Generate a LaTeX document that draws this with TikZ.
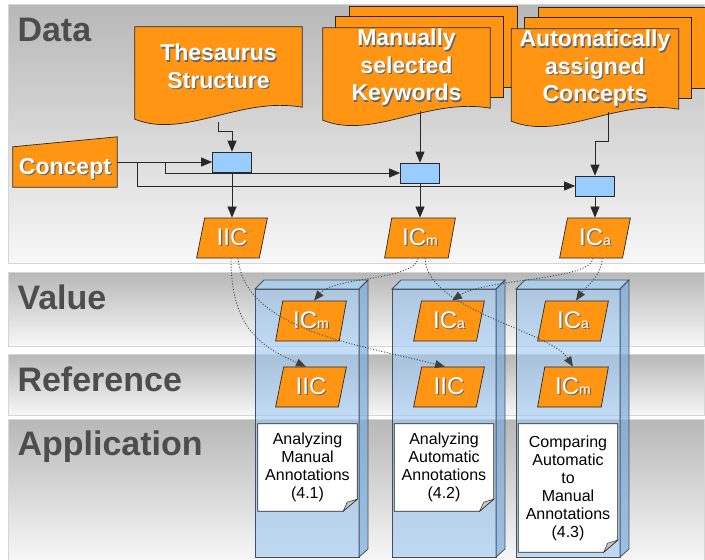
\documentclass[tikz,border=0pt]{standalone}
\usepackage{fontspec}
\setmainfont{Liberation Sans}
\usetikzlibrary{arrows.meta, calc, shapes.geometric}

\definecolor{docorange}{RGB}{255,149,18}
\definecolor{docline}{RGB}{40,40,40}
\definecolor{joinblue}{RGB}{153,204,255}
\definecolor{bandtext}{RGB}{77,77,77}
\definecolor{colfront}{RGB}{155,200,240}
\definecolor{coltop}{RGB}{165,210,245}
\definecolor{colside}{RGB}{120,170,220}
\definecolor{colline}{RGB}{70,80,92}

\pgfdeclarelayer{bands}
\pgfdeclarelayer{cols}
\pgfdeclarelayer{shapes}
\pgfsetlayers{bands,cols,shapes,main}

\newcommand{\shtxt}[1]{\leavevmode\rlap{\kern1.2pt\raisebox{-1.2pt}{\color{black!60}#1}}#1}
\newcommand{\ICm}{\shtxt{IC{\fontsize{14}{14}\selectfont m}}}
\newcommand{\ICa}{\shtxt{IC{\fontsize{14}{14}\selectfont a}}}

\newcommand{\docshape}[1]{%
  \path[docshape] (#1.north west) -- (#1.north east) -- (#1.south east)
    .. controls ([xshift=-62pt,yshift=11pt]#1.south east) and ([xshift=50pt,yshift=-32pt]#1.south west)
    .. ([yshift=-12pt]#1.south west) -- cycle;}
\newcommand{\docstack}[1]{%
  \path[docshape] ([xshift=27pt,yshift=21pt]#1.north west) rectangle ([xshift=27pt,yshift=21pt]#1.south east);
  \path[docshape] ([xshift=13pt,yshift=11pt]#1.north west) rectangle ([xshift=13pt,yshift=11pt]#1.south east);
  \docshape{#1}}
\newcommand{\inputshape}[1]{%
  \path[docshape] (#1.south west) -- (#1.south east) -- (#1.north east) -- ([yshift=-10pt]#1.north west) -- cycle;}
\newcommand{\noteshape}[1]{%
  \path[fill=white, draw=docline, line width=0.7pt] (#1.north west) -- (#1.north east) -- ([yshift=12pt]#1.south east)
    -- ([xshift=-14pt]#1.south east) -- (#1.south west) -- cycle;
  \path[fill=black!22, draw=docline, line width=0.5pt] ([yshift=12pt]#1.south east) -- ([xshift=-14pt]#1.south east)
    -- ([xshift=-10pt,yshift=9pt]#1.south east) -- cycle;}

\tikzset{
  band/.style={top color=black!28, bottom color=black!3, draw=black!16, line width=0.6pt},
  bandlabel/.style={anchor=base west, text=bandtext, font=\fontsize{34}{38}\selectfont\bfseries},
  docshape/.style={fill=docorange, draw=docline, line width=0.7pt},
  doctext/.style={minimum width=167pt, minimum height=80pt, inner sep=0pt, align=center, text=white,
    font=\fontsize{23}{27.5}\selectfont\bfseries},
  inputtext/.style={minimum width=104pt, minimum height=50pt, inner sep=0pt, text height=25pt, text depth=0pt,
    text=white, font=\fontsize{23}{27}\selectfont\bfseries},
  infobox/.style={trapezium, trapezium left angle=76, trapezium right angle=104, trapezium stretches,
    minimum width=71pt, minimum height=40pt, inner sep=0pt, fill=docorange, draw=docline, line width=0.7pt,
    text=white, font=\fontsize{24}{24}\selectfont},
  joinbox/.style={rectangle, minimum width=39pt, minimum height=20pt, fill=joinblue, draw=docline, line width=0.7pt},
  notetext/.style={minimum width=99pt, inner sep=0pt, align=center, font=\fontsize{16}{18}\selectfont},
  flow/.style={draw=docline, line width=0.7pt, -{Triangle[length=11pt,width=9pt]}},
  valflow/.style={draw=black!75, line width=0.9pt, dash pattern=on 1pt off 1.8pt, -{Triangle[length=10pt,width=8pt]}},
}

\begin{document}
\begin{tikzpicture}[x=1pt, y=-1pt]
  \useasboundingbox (0,0) rectangle (705,560);

  \begin{pgfonlayer}{bands}
    \path[band] (8,4) rectangle (704,263);
    \path[band] (8,272) rectangle (704,346);
    \path[band] (8,354) rectangle (704,415);
    \path[band] (8,419) rectangle (704,561);
  \end{pgfonlayer}
  \node[bandlabel] (datalbl) at (14,41) {Data};
  \node[bandlabel] (valuelbl) at (14,309) {Value};
  \node[bandlabel] (reflbl) at (14,391) {Reference};
  \node[bandlabel] (applbl) at (14,455) {Application};

  % columns
  \begin{pgfonlayer}{cols}
    \foreach \x in {255,392,516}{
      \path[fill=colfront, fill opacity=0.6, draw=colline, line width=0.8pt] (\x,289) rectangle (\x+104,557);
      \path[fill=coltop, fill opacity=0.8, draw=colline, line width=0.8pt]
        (\x,289) -- (\x+9,280) -- (\x+113,280) -- (\x+104,289) -- cycle;
      \path[fill=colside, fill opacity=0.7, draw=colline, line width=0.8pt]
        (\x+104,289) -- (\x+113,280) -- (\x+113,549) -- (\x+104,557) -- cycle;
    }
  \end{pgfonlayer}

  % data
  \node[doctext] (thes) at (218.5,67) {\shtxt{Thesaurus}\\\shtxt{Structure}};
  \node[doctext] (keys) at (406.5,68) {\shtxt{Manually}\\\shtxt{selected}\\\shtxt{Keywords}};
  \node[doctext] (concs) at (595,69) {\shtxt{Automatically}\\\shtxt{assigned}\\\shtxt{Concepts}};
  \node[inputtext] (concept) at (65,162) {\shtxt{Concept}};

  \node[joinbox] (join1) at (232,162) {};
  \node[joinbox] (join2) at (420,173) {};
  \node[joinbox] (join3) at (595,186) {};

  \node[infobox] (iic) at (232,238) {\shtxt{IIC}};
  \node[infobox] (icm) at (420,238) {\ICm};
  \node[infobox] (ica) at (595,238) {\ICa};

  % value / reference
  \node[infobox] (valm1) at (311,321) {\ICm};
  \node[infobox] (refi1) at (311,387) {\shtxt{IIC}};
  \node[infobox] (vala2) at (449,321) {\ICa};
  \node[infobox] (refi2) at (449,387) {\shtxt{IIC}};
  \node[infobox] (vala3) at (573,321) {\ICa};
  \node[infobox] (refm3) at (573,387) {\ICm};

  % application
  \node[notetext, minimum height=87pt] (note1) at (307.5,467.5) {Analyzing\\Manual\\Annotations\\(4.1)};
  \node[notetext, minimum height=87pt] (note2) at (444,467.5) {Analyzing\\Automatic\\Annotations\\(4.2)};
  \node[notetext, minimum height=128pt] (note3) at (568,488) {Comparing\\Automatic\\to\\Manual\\Annotations\\(4.3)};

  \begin{pgfonlayer}{shapes}
    \docshape{thes}
    \docstack{keys}
    \docstack{concs}
    \inputshape{concept}
    \noteshape{note1}
    \noteshape{note2}
    \noteshape{note3}
  \end{pgfonlayer}

  \draw[flow] (concept.east) -- (join1.west);
  \draw[flow] ([xshift=48pt]concept.east) |- (join2.west);
  \draw[flow] ([xshift=20pt]concept.east) |- (join3.west);
  \draw[flow] ([yshift=-15pt]thes.south) -- ++(0,9) -| (join1.north);
  \draw[flow] ($(keys.south -| join2.north)+(0,3)$) -- (join2.north);
  \draw[flow] ([xshift=13pt,yshift=-3pt]concs.south) -- ++(0,29) -| (join3.north);
  \draw[flow] (join1.south) -- (iic.north -| join1.south);
  \draw[flow] (join2.south) -- (icm.north -| join2.south);
  \draw[flow] (join3.south) -- (ica.north -| join3.south);

  \draw[valflow] ([xshift=-1pt]iic.south) .. controls +(0,70) and +(-45,-20) .. ([xshift=-5pt]refi1.north);
  \draw[valflow] ([xshift=6pt]iic.south) .. controls +(7,72) and +(-85,-22) .. ([xshift=-4pt]refi2.north);
  \draw[valflow] ([xshift=-2pt]icm.south) .. controls +(-3,22) and +(20,-24) .. ([xshift=3pt]valm1.north);
  \draw[valflow] ([xshift=5pt]icm.south) .. controls +(2,52) and +(-23,-36) .. (refm3.north);
  \draw[valflow] ([xshift=-2pt]ica.south) .. controls +(-2,22) and +(32,-22) .. ([xshift=3pt]vala2.north);
  \draw[valflow] ([xshift=7pt]ica.south) .. controls +(0,18) and +(8,-12) .. ([xshift=3pt]vala3.north);
\end{tikzpicture}
\end{document}
